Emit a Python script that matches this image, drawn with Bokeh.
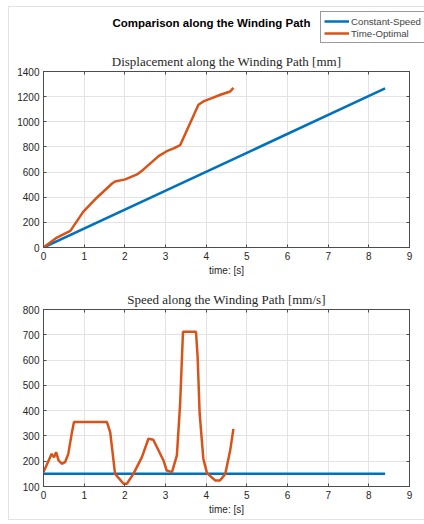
from bokeh.plotting import figure
from bokeh.layouts import column, row
from bokeh.models import (Range1d, Legend, LegendItem, LinearAxis, FixedTicker,
                          CustomJSTickFormatter, InlineStyleSheet)
from bokeh.core.properties import value
from bokeh.embed import file_html
from bokeh.resources import INLINE

# ---------------- data ----------------
t_const = [0.0, 8.4]
disp_const = [0, 1265]
speed_const = [150, 150]

t_disp_opt = [0, 0.33, 0.66, 0.98, 1.31, 1.68, 1.76, 2.01, 2.30, 2.46, 2.83, 3.03,
              3.20, 3.36, 3.81, 3.93, 4.14, 4.35, 4.59, 4.67]
disp_opt = [0, 79, 132, 285, 396, 507, 525, 542, 581, 621, 727, 766,
            788, 814, 1136, 1162, 1188, 1215, 1241, 1270]

t_speed_opt = [0, 0.2, 0.26, 0.31, 0.37, 0.45, 0.53, 0.61, 0.7, 0.75, 1.56, 1.64,
               1.76, 1.97, 2.05, 2.21, 2.42, 2.58, 2.7, 2.95, 3.03, 3.16, 3.28,
               3.36, 3.43, 3.75, 3.79, 3.84, 3.93, 4.02, 4.22, 4.34, 4.47, 4.59, 4.67]
speed_opt = [157, 229, 216, 236, 203, 190, 196, 229, 315, 355, 355, 315,
             150, 111, 111, 150, 216, 289, 285, 203, 163, 157, 223,
             428, 712, 712, 612, 388, 210, 153, 124, 124, 150, 242, 328]

x_ticks = [0, 1, 2, 3, 4, 5, 6, 7, 8, 9]
disp_ticks = [0, 200, 400, 600, 800, 1000, 1200, 1400]
speed_ticks = [100, 200, 300, 400, 500, 600, 700, 800]

main_title = "Comparison along the Winding Path"
top_title = "Displacement along the Winding Path [mm]"
bottom_title = "Speed along the Winding Path [mm/s]"
x_label = "time: [s]"
names = ["Constant-Speed", "Time-Optimal"]

BLUE = "#0072BD"
ORANGE = "#D95319"
SANS = "Liberation Sans"
SERIF = "Liberation Serif"
AX = "#4d4d4d"
W = 424
BL, BR = 43, 15
HDR_H = 48
NAN = float("nan")

# ---------------- header (title + legend) ----------------
# header x/y ranges are in page pixels; the frame covers the whole header
hdr = figure(width=W, height=HDR_H, x_range=Range1d(0, W), y_range=Range1d(0, HDR_H),
             output_backend="svg", toolbar_location=None,
             x_axis_location=None, y_axis_location=None, min_border=0)
hdr.grid.visible = False
hdr.outline_line_color = None
hdr.text(x=[211], y=[HDR_H - 22], text=[main_title], text_font=value(SANS),
         text_font_size="11.5px", text_font_style="bold", text_align="center",
         text_baseline="middle", text_color="#000000")
r1 = hdr.line(x=[NAN, NAN], y=[NAN, NAN], line_color=BLUE, line_width=2.5)
r2 = hdr.line(x=[NAN, NAN], y=[NAN, NAN], line_color=ORANGE, line_width=2.5)
leg = Legend(items=[LegendItem(label=names[0], renderers=[r1]),
                    LegendItem(label=names[1], renderers=[r2])],
             location=(320, HDR_H - 43), orientation="vertical",
             label_text_font=SANS, label_text_font_size="9.7px",
             label_height=12, glyph_height=12, glyph_width=25,
             label_standoff=2, spacing=0, padding=3, margin=0,
             border_line_color="#333333", border_line_width=1,
             background_fill_color="white")
hdr.add_layout(leg, "center")

blank = CustomJSTickFormatter(code="return ''")


def style(p, yticks, title):
    p.title.text = title
    p.title.text_font = SERIF
    p.title.text_font_size = "13px"
    p.title.text_font_style = "normal"
    p.title.text_color = "#262626"
    p.title.align = "center"
    p.title.standoff = 6
    p.outline_line_color = AX
    p.outline_line_width = 1
    p.xaxis.ticker = FixedTicker(ticks=x_ticks)
    p.yaxis.ticker = FixedTicker(ticks=yticks)
    for ax in p.xaxis + p.yaxis:
        ax.major_tick_in = 3
        ax.major_tick_out = 0
        ax.minor_tick_in = 0
        ax.minor_tick_out = 0
        ax.axis_line_color = AX
        ax.major_tick_line_color = AX
        ax.major_label_text_font = SANS
        ax.major_label_text_font_size = "10px"
        ax.major_label_text_color = "#262626"
        ax.major_label_standoff = 4
    p.xaxis.axis_label = x_label
    p.xaxis.axis_label_text_font = SANS
    p.xaxis.axis_label_text_font_size = "10px"
    p.xaxis.axis_label_text_font_style = "normal"
    p.xaxis.axis_label_text_color = "#262626"
    p.xaxis.axis_label_standoff = 2
    try:
        p.xaxis.axis_label_align = "right"
    except Exception:
        pass
    p.grid.grid_line_color = "#e3e3e3"
    p.grid.grid_line_width = 1
    p.xgrid.ticker = FixedTicker(ticks=x_ticks)
    p.ygrid.ticker = FixedTicker(ticks=yticks)
    # ticks on top and right (boxed axes), without labels
    top = LinearAxis(ticker=FixedTicker(ticks=x_ticks), formatter=blank,
                     major_tick_in=3, major_tick_out=0, minor_tick_in=0, minor_tick_out=0,
                     major_label_standoff=0, axis_line_color=AX, major_tick_line_color=AX)
    right = LinearAxis(ticker=FixedTicker(ticks=yticks), formatter=blank,
                       major_tick_in=3, major_tick_out=0, minor_tick_in=0, minor_tick_out=0,
                       major_label_standoff=0, axis_line_color=AX, major_tick_line_color=AX)
    p.add_layout(top, "above")
    p.add_layout(right, "right")


# ---------------- displacement ----------------
p1 = figure(width=W, height=234, x_range=Range1d(0, 9), y_range=Range1d(0, 1400),
            output_backend="svg", toolbar_location=None,
            min_border_left=BL, min_border_right=BR, min_border_top=21, min_border_bottom=35)
style(p1, disp_ticks, top_title)
p1.line(t_const, disp_const, line_color=BLUE, line_width=2.5)
p1.line(t_disp_opt, disp_opt, line_color=ORANGE, line_width=2.5)

# ---------------- speed ----------------
p2 = figure(width=W, height=240, x_range=Range1d(0, 9), y_range=Range1d(100, 800),
            output_backend="svg", toolbar_location=None,
            min_border_left=BL, min_border_right=BR, min_border_top=27, min_border_bottom=36)
style(p2, speed_ticks, bottom_title)
p2.line(t_const, speed_const, line_color=BLUE, line_width=2.5)
p2.line(t_speed_opt, speed_opt, line_color=ORANGE, line_width=2.5)

# light grey figure edge, as in the reference screenshot
edge = InlineStyleSheet(css="""
:host::after {
  content: ""; position: absolute; left: 8px; top: 6px; right: -4px; bottom: 2px;
  border: 1px solid #e2e2e2; pointer-events: none; z-index: 10;
}
""")

# the header sits in its own row so that its frame is not aligned with the plot frames
layout = column(row(hdr, spacing=0), p1, p2, spacing=0, stylesheets=[edge])
open("out.html", "w").write(file_html(layout, INLINE))
